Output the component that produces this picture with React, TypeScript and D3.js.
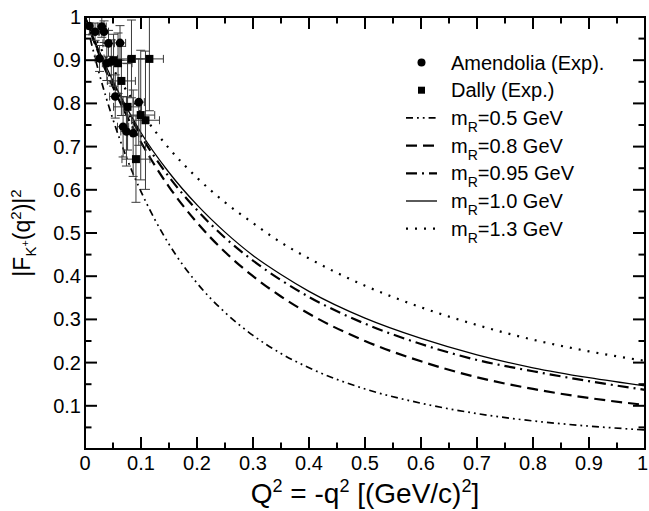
import React from "react";
import * as d3 from "d3";

// ---- data ----
const Q2 = [0, 0.025, 0.05, 0.075, 0.1, 0.15, 0.2, 0.25, 0.3, 0.35, 0.4, 0.5, 0.6, 0.7, 0.8, 0.9, 1.0];
const F_m050 = [1, 0.871, 0.763, 0.672, 0.596, 0.474, 0.384, 0.316, 0.263, 0.221, 0.188, 0.139, 0.106, 0.082, 0.065, 0.053, 0.044];
const F_m080 = [1, 0.914, 0.838, 0.770, 0.710, 0.607, 0.524, 0.456, 0.400, 0.353, 0.313, 0.250, 0.203, 0.166, 0.139, 0.118, 0.102];
const F_m095 = [1, 0.918, 0.846, 0.782, 0.725, 0.630, 0.553, 0.489, 0.436, 0.391, 0.352, 0.290, 0.243, 0.206, 0.180, 0.157, 0.137];
const F_m100 = [1, 0.922, 0.852, 0.789, 0.732, 0.640, 0.565, 0.502, 0.448, 0.404, 0.365, 0.303, 0.256, 0.218, 0.188, 0.165, 0.146];
const F_m130 = [1, 0.935, 0.880, 0.828, 0.780, 0.696, 0.628, 0.571, 0.523, 0.478, 0.441, 0.378, 0.328, 0.287, 0.253, 0.226, 0.204];

const amendoliaQ2 = [0.008, 0.018, 0.026, 0.030, 0.034, 0.039, 0.042, 0.047, 0.054, 0.0625, 0.068, 0.074, 0.086, 0.096];
const amendoliaF2 = [0.979, 0.966, 0.904, 0.978, 0.966, 0.893, 0.939, 0.897, 0.816, 0.940, 0.746, 0.735, 0.731, 0.803];
const amendoliaErr = [0.02, 0.02, 0.03, 0.025, 0.025, 0.04, 0.03, 0.05, 0.05, 0.04, 0.07, 0.08, 0.1, 0.1];
const amendoliaQ2Err = [0.006, 0.006, 0.008, 0.008, 0.008, 0.008, 0.01, 0.01, 0.01, 0.01, 0.01, 0.01, 0.01, 0.01];

const dallyQ2 = [0.051, 0.059, 0.065, 0.076, 0.083, 0.091, 0.0995, 0.108, 0.115];
const dallyF2 = [0.900, 0.893, 0.852, 0.792, 0.903, 0.671, 0.773, 0.761, 0.903];
const dallyErr = [0.06, 0.07, 0.08, 0.1, 0.09, 0.1, 0.15, 0.16, 0.12];
const dallyQ2Err = [0.025, 0.025, 0.025, 0.025, 0.025, 0.025, 0.025, 0.025, 0.025];

const xTicks = [0, 0.1, 0.2, 0.3, 0.4, 0.5, 0.6, 0.7, 0.8, 0.9, 1];
const xTickLabels = ["0", "0.1", "0.2", "0.3", "0.4", "0.5", "0.6", "0.7", "0.8", "0.9", "1"];
const yTicks = [0.1, 0.2, 0.3, 0.4, 0.5, 0.6, 0.7, 0.8, 0.9, 1];
const yTickLabels = ["0.1", "0.2", "0.3", "0.4", "0.5", "0.6", "0.7", "0.8", "0.9", "1"];

const curveNames = ["0.5", "0.8", "0.95", "1.0", "1.3"];
const curveValues = [F_m050, F_m080, F_m095, F_m100, F_m130];
const curveDash = ["7,4,1.8,4,1.8,4", "11,6", "11,5,2,5", "", "2,7"];
const curveWidth = [1.7, 2.2, 2.2, 1.3, 2.2];

const W = 649, H = 511;
const M = { left: 85, right: 645, top: 17, bottom: 449 };
const FONT = "'Liberation Sans', Arial, Helvetica, sans-serif";

export default function App() {
  const x = d3.scaleLinear().domain([0, 1]).range([M.left, M.right]);
  const y = d3.scaleLinear().domain([0, 1]).range([M.bottom, M.top]);
  const line = d3
    .line<[number, number]>()
    .x((d) => x(d[0]))
    .y((d) => y(d[1]))
    .curve(d3.curveMonotoneX);

  const minor = d3.range(0.05, 1, 0.1);
  const majLen = 12, minLen = 6.5;

  const errBars = (qs: number[], fs: number[], de: number[], dq: number[], key: string) =>
    qs.map((q, i) => {
      const cx = x(q), cy = y(fs[i]);
      const y1 = y(fs[i] - de[i]), y2 = y(fs[i] + de[i]);
      const x1 = x(q - dq[i]), x2 = x(q + dq[i]);
      return (
        <g key={key + i} stroke="#3a3a3a" strokeWidth={1} fill="none">
          <line x1={cx} x2={cx} y1={y1} y2={y2} />
          <line x1={cx - 4.5} x2={cx + 4.5} y1={y1} y2={y1} />
          <line x1={cx - 4.5} x2={cx + 4.5} y1={y2} y2={y2} />
          <line x1={x1} x2={x2} y1={cy} y2={cy} />
          <line x1={x1} x2={x1} y1={cy - 4} y2={cy + 4} />
          <line x1={x2} x2={x2} y1={cy - 4} y2={cy + 4} />
        </g>
      );
    });

  const legendY = (i: number) => 62.5 + 27.7 * i;
  const lx1 = 406, lx2 = 437, ltx = 451;

  return (
    <svg
      width={W}
      height={H}
      style={{ position: "absolute", left: 0, top: 0, background: "#fff" }}
      fontFamily={FONT}
    >
      <defs>
        <clipPath id="plot">
          <rect x={M.left} y={M.top} width={M.right - M.left} height={M.bottom - M.top} />
        </clipPath>
      </defs>
      <rect width={W} height={H} fill="#fff" />

      {/* curves */}
      <g clipPath="url(#plot)">
        {curveValues.map((vals, k) => (
          <path
            key={k}
            d={line(Q2.map((q, i) => [q, vals[i]]) as [number, number][]) || ""}
            fill="none"
            stroke="#000"
            strokeWidth={curveWidth[k]}
            strokeDasharray={curveDash[k] || undefined}
          />
        ))}
        {errBars(amendoliaQ2, amendoliaF2, amendoliaErr, amendoliaQ2Err, "a")}
        {errBars(dallyQ2, dallyF2, dallyErr, dallyQ2Err, "d")}
        {amendoliaQ2.map((q, i) => (
          <circle key={"ac" + i} cx={x(q)} cy={y(amendoliaF2[i])} r={4.3} fill="#000" />
        ))}
        {dallyQ2.map((q, i) => (
          <rect key={"dr" + i} x={x(q) - 4} y={y(dallyF2[i]) - 4} width={8} height={8} fill="#000" />
        ))}
      </g>

      {/* frame */}
      <rect
        x={M.left}
        y={M.top}
        width={M.right - M.left}
        height={M.bottom - M.top}
        fill="none"
        stroke="#000"
        strokeWidth={2}
      />
      {/* ticks */}
      <g stroke="#000" strokeWidth={2}>
        {xTicks.map((t, i) => (
          <g key={"xt" + i}>
            <line x1={x(t)} x2={x(t)} y1={M.bottom} y2={M.bottom - majLen} />
            <line x1={x(t)} x2={x(t)} y1={M.top} y2={M.top + majLen} />
          </g>
        ))}
        {minor.map((t, i) => (
          <g key={"xm" + i}>
            <line x1={x(t)} x2={x(t)} y1={M.bottom} y2={M.bottom - minLen} />
            <line x1={x(t)} x2={x(t)} y1={M.top} y2={M.top + minLen} />
            <line x1={M.left} x2={M.left + minLen} y1={y(t)} y2={y(t)} />
            <line x1={M.right} x2={M.right - minLen} y1={y(t)} y2={y(t)} />
          </g>
        ))}
        {yTicks.map((t, i) => (
          <g key={"yt" + i}>
            <line x1={M.left} x2={M.left + majLen} y1={y(t)} y2={y(t)} />
            <line x1={M.right} x2={M.right - majLen} y1={y(t)} y2={y(t)} />
          </g>
        ))}
      </g>

      {/* tick labels */}
      <g fontSize={20} fill="#000">
        {xTicks.map((t, i) =>
          i === xTicks.length - 1 ? (
            <text key={"xl" + i} x={W - 1} y={M.bottom + 21} textAnchor="end">
              {xTickLabels[i]}
            </text>
          ) : (
            <text key={"xl" + i} x={x(t)} y={M.bottom + 21} textAnchor="middle">
              {xTickLabels[i]}
            </text>
          )
        )}
        {yTicks.map((t, i) => (
          <text key={"yl" + i} x={M.left - 4} y={y(t) + 7} textAnchor="end">
            {yTickLabels[i]}
          </text>
        ))}
      </g>

      {/* axis titles */}
      <text x={(M.left + M.right) / 2} y={503} textAnchor="middle" fontSize={28}>
        <tspan>Q</tspan>
        <tspan dy={-11} fontSize={18}>2</tspan>
        <tspan dy={11}> = -q</tspan>
        <tspan dy={-11} fontSize={18}>2</tspan>
        <tspan dy={11}> [(GeV/c)</tspan>
        <tspan dy={-11} fontSize={18}>2</tspan>
        <tspan dy={11}>]</tspan>
      </text>
      <text transform={`translate(30,${(M.top + M.bottom) / 2}) rotate(-90)`} textAnchor="middle" fontSize={23}>
        <tspan>|F</tspan>
        <tspan dy={6} fontSize={15}>K</tspan>
        <tspan dy={-7} fontSize={11}>+</tspan>
        <tspan dy={1} fontSize={23}>(q</tspan>
        <tspan dy={-9} fontSize={15}>2</tspan>
        <tspan dy={9}>)|</tspan>
        <tspan dy={-9} fontSize={15}>2</tspan>
      </text>

      {/* legend */}
      <g fontSize={20} fill="#000">
        <circle cx={(lx1 + lx2) / 2} cy={legendY(0)} r={4} />
        <text x={ltx} y={legendY(0) + 7}>Amendolia (Exp).</text>
        <rect x={(lx1 + lx2) / 2 - 3.5} y={legendY(1) - 3.5} width={7} height={7} />
        <text x={ltx} y={legendY(1) + 7}>Dally (Exp.)</text>
        {curveNames.map((n, k) => (
          <g key={"lg" + k}>
            <line
              x1={lx1}
              x2={lx2}
              y1={legendY(k + 2)}
              y2={legendY(k + 2)}
              stroke="#000"
              strokeWidth={curveWidth[k]}
              strokeDasharray={curveDash[k] || undefined}
            />
            <text x={ltx} y={legendY(k + 2) + 7}>
              <tspan>m</tspan>
              <tspan dy={7} fontSize={14}>R</tspan>
              <tspan dy={-7}>{"=" + n + " GeV"}</tspan>
            </text>
          </g>
        ))}
      </g>
    </svg>
  );
}
